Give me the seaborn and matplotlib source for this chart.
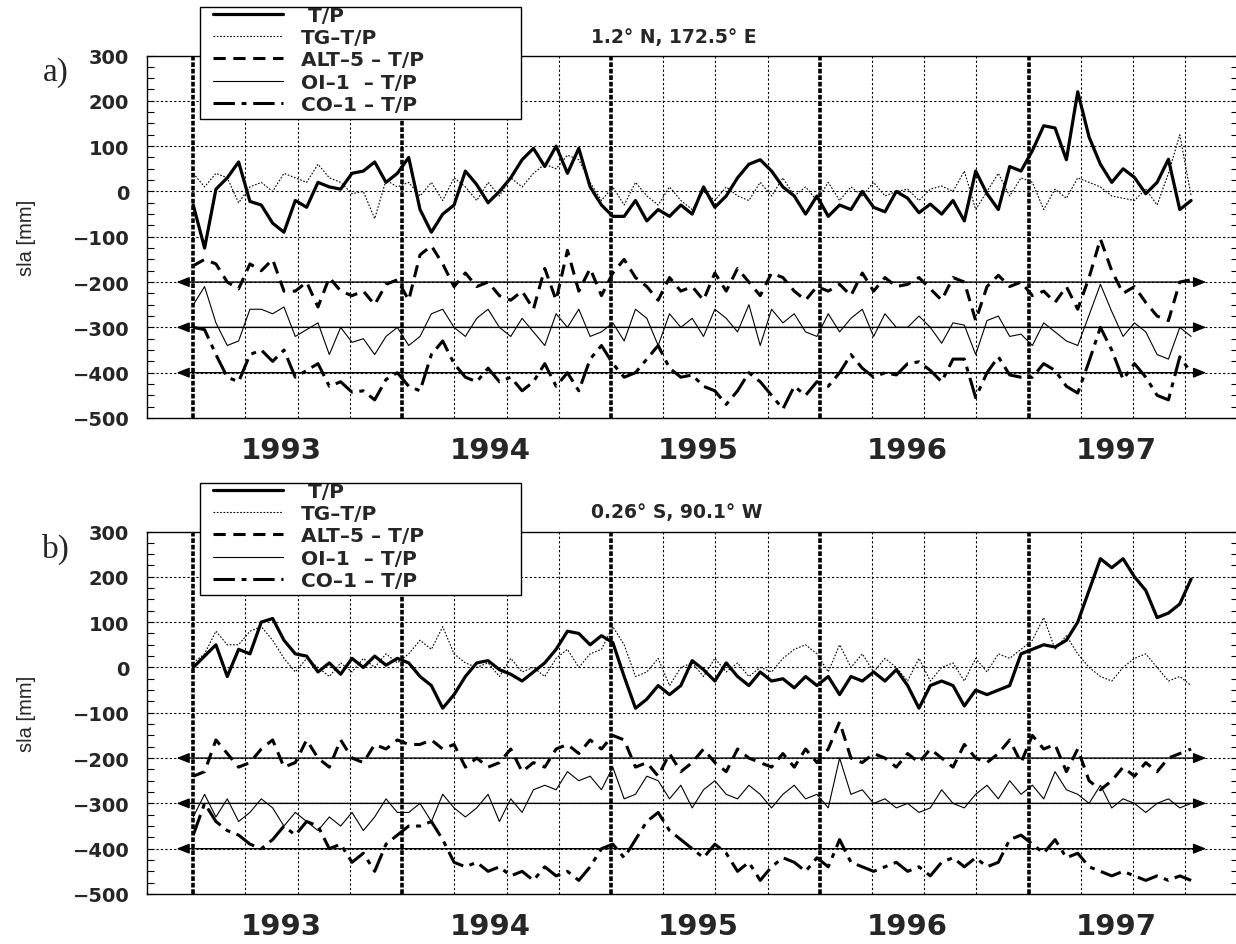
import numpy as np
import pandas as pd
import matplotlib
matplotlib.use("Agg")
import matplotlib.pyplot as plt
import seaborn as sns
from matplotlib.patches import Rectangle
from matplotlib.lines import Line2D
from matplotlib.ticker import MultipleLocator

sns.set_theme(style="white")
plt.rcParams['font.family'] = ['DejaVu Sans']

# ---------------- data ----------------
START_YEAR = 1993.0
STEP_DAYS = 2 * 9.9156          # two T/P cycles between samples
YEARS = [1993, 1994, 1995, 1996, 1997]
SERIES = [" T/P", "TG\u2013T/P", "ALT\u20135 \u2013 T/P", "OI\u20131  \u2013 T/P", "CO\u20131 \u2013 T/P"]
OFFSETS = [0, 0, -200, -300, -400]
TITLES = ["1.2\u00b0 N, 172.5\u00b0 E", "0.26\u00b0 S, 90.1\u00b0 W"]
PANEL_LABELS = ["a)", "b)"]

# panel a
tp_a = [-30, -125, 5, 30, 65, -22, -30, -70, -90, -20,
        -35, 20, 10, 5, 40, 45, 65, 20, 40, 75,
        -40, -90, -50, -30, 45, 15, -25, 0, 30, 70,
        95, 55, 100, 40, 95, 10, -30, -55, -55, -20,
        -65, -40, -55, -30, -50, 10, -35, -10, 30, 60,
        70, 45, 10, -10, -50, -10, -55, -30, -40, 0,
        -35, -45, 0, -15, -47, -28, -50, -20, -65, 45,
        -5, -40, 55, 45, 90, 145, 140, 70, 220, 120,
        60, 20, 50, 31, -5, 20, 71, -40, -20]
tg_a = [40, 10, 40, 30, -25, 10, 20, 0, 40, 30,
        20, 60, 30, 20, -5, 0, -60, 25, 10,
        20, -10, 20, -20, 30, 10, -20, 20, -10, 30,
        10, 40, 60, 50, 80, 70, 20, -20, 10, -30,
        20, -10, -30, 10, -20, -40, 0, -20, 10, -10,
        -20, 20, -10, 30, -10, 10, -20, 20, -20, 10,
        -10, 20, -10,
        0, 5, -20, 5, 12, 0, 45, -40, 0, 40,
        -10, 30, 20, -40, 5, -15, 30, 20, 10, -10,
        -15, -20, 5, -30, 40, 125, -10]
alt5_a = [36, 50, 40, 0, -15, 40, 25, 50, -20, -20,
          0, -55, 10, -20, -30, -20, -50, -5, 5,
          -40, 60, 80, 40, -10, 20, -10, 0, -30, -40,
          -20, -60, 30, -40, 70, -20, 30, -30, 20, 50,
          10, -10, -40, 10, -20, -10, -40, 20, -20, 30,
          0, -30, 20, 10, -20, -40, -10, -20, -5, -30,
          20, -20, 10,
          -10, -5, 10, -15, -40, 10, 0, -85, -10, 15,
          -10, 0, -30, -20, -45, -10, -60, 10, 95, 25,
          -25, -10, -45, -75, -85, 0, 5]
oi1_a = [50, 90, 10, -40, -30, 40, 40, 30, 45, -20,
         -5, 10, -60, 0, -33, -25, -60, -20, 0,
         -40, -20, 30, 40, 0, -20, 20, 40, 0, -20,
         20, -10, -40, 30, 0, 40, -20, -10, 10, -30,
         40, 20, -40, 30, 0, 20, -20, 40, 20, -10,
         50, -40, 40, 10, 30, -10, -20, 30, -10, 20,
         40, -20, 30,
         0, 0, 25, 0, -35, 10, 5, -60, 15, 25,
         -20, -15, -40, 10, -10, -30, -40, 27, 95, 35,
         -20, 10, -10, -60, -70, 0, -20]
co1_a = [100, 95, 40, -10, -20, 40, 50, 25, 50, -10,
         5, 20, -30, -20, -43, -40, -60, -15, 0,
         -30, -40, 40, 70, 20, -10, -20, 10, -20, -10,
         -40, -20, 20, -30, 0, -40, 30, 60, 20, -10,
         0, 30, 60, 10, -10, -5, -30, -40, -70, -40,
         0, -20, -50, -80, -30, -50, -20, -30, 0, 40,
         10, -10, 0,
         -5, 20, 24, 5, -20, 30, 30, -55, 0, 35,
         -5, -10, -10, 20, 5, -30, -45, 25, 100, 50,
         -15, 20, -10, -50, -60, 35, 0]

# panel b
tp_b = [0, 25, 50, -20, 40, 30, 100, 108, 60, 30,
        25, -10, 10, -15, 20, 0, 25, 5, 20, 10,
        -20, -40, -90, -60, -20, 10, 15, -5, -15, -30,
        -10, 10, 40, 80, 75, 50, 70, 55, -20, -90,
        -70, -40, -60, -40, 15, -5, -30, 10, -20, -40,
        -10, -30, -25, -45, -20, -40, -20, -60, -20, -30,
        -10, -30, -5, -40, -90, -40, -30, -40, -85, -50,
        -60, -50, -40, 30, 40, 50, 45, 60, 100, 170,
        240, 220, 240, 200, 170, 110, 120, 140, 195]
tg_b = [10, 30, 80, 50, 50, 80, 90, 60, 20, -10,
        20, 0, -20, 10, -10, 20, 0, 30, 10, 30,
        60, 40, 90, 30, 10, 0, 10, -20, 20, -10,
        0, -20, 20, 40, 0, 30, 40, 90, 50, -20,
        -10, 20, -40, 0, 10, -20, 20, -10, 10, -20,
        0, -10, 20, 40, 50, 30, -10, 50, 0, 30,
        -10, 20, 0, -30, 20, -30, 0, 10, -30, 20,
        -10, 30, 20, 40, 60, 110, 40, 70, 30, 0,
        -20, -30, 0, 20, 30, 0, -30, -20, -40]
alt5_b = [-40, -30, 40, 10, -20, -10, 20, 40, -20, -10,
          40, 0, -20, 40, 0, -10, 30, 20, 40, 30,
          30, 40, 20, 30, -20, 0, -20, -10, 20, -30,
          -10, -20, 20, 30, 10, 40, 20, 50, 40, -20,
          -10, -40, 10, -30, -10, 20, -10, -30, 20, 0,
          -10, -20, 10, -20, 20, -10, 20, 80, 0, -10,
          10, 0, -20, 10, -10, 20, 0, -20, 30, 0,
          -10, 10, 40, -10, 50, 20, 30, -30, 20, -50,
          -70, -50, -20, -40, -10, -30, 0, 10, 20]
oi1_b = [-30, 20, -30, 10, -40, -20, 10, -10, -50, -20,
         -40, -60, -30, -50, -20, -60, -30, 10, -20, -20,
         0, -40, 20, -10, -30, -10, 20, -40, 10, -20,
         30, 40, 30, 70, 50, 60, 30, 80, 10, 20,
         60, 50, 10, 40, -10, 30, 50, 20, 10, 40,
         20, -10, 20, 40, 10, 20, -10, 100, 20, 30,
         0, 10, -10, 0, -20, -10, 30, 0, -10, 20,
         40, 10, 50, 20, 40, 10, 70, 30, 20, 0,
         40, -10, 10, 0, -20, 0, 10, -10, 0]
co1_b = [30, 100, 60, 40, 30, 10, 0, 20, 50, 30,
         60, 50, 0, 10, -30, -10, -50, 10, 30, 50,
         50, 60, 20, -30, -40, -30, -50, -40, -60, -50,
         -70, -40, -60, -50, -70, -40, 0, 10, -20, 20,
         60, 80, 40, 20, 0, -20, 10, -10, -50, -30,
         -70, -40, -20, -30, -50, -20, -40, 20, -30, -40,
         -50, -40, -30, -50, -40, -60, -30, -20, -40, -20,
         -40, -30, 20, 30, 10, -10, 20, -20, -10, -40,
         -50, -60, -50, -60, -70, -60, -70, -60, -70]

PANELS = [[tp_a, tg_a, alt5_a, oi1_a, co1_a], [tp_b, tg_b, alt5_b, oi1_b, co1_b]]

# ---------------- styles ----------------
STYLES = [dict(lw=2.3, ls="-"),
          dict(lw=0.8, ls=(0, (1.5, 1.5))),
          dict(lw=2.2, ls=(0, (4, 2.5))),
          dict(lw=0.8, ls="-"),
          dict(lw=2.2, ls=(0, (7, 2.2, 1.6, 2.2)))]

W, H = 1236, 945
LEFT_PX, RIGHT_PX = 147.3, 1237.5
TOPS = [56.5, 532.5]
AX_H = 362.5

fig = plt.figure(figsize=(W / 100, H / 100), dpi=100)

for p, (vals_list, title, plab) in enumerate(zip(PANELS, TITLES, PANEL_LABELS)):
    top = TOPS[p]
    ax = fig.add_axes([LEFT_PX / W, 1 - (top + AX_H) / H, (RIGHT_PX - LEFT_PX) / W, AX_H / H])
    n = len(vals_list[0])
    t = START_YEAR + np.arange(n) * STEP_DAYS / 365.25
    frames = []
    for name, off, vals in zip(SERIES, OFFSETS, vals_list):
        frames.append(pd.DataFrame({"t": t[:len(vals)], "sla": np.array(vals, float) + off, "series": name}))
    df = pd.concat(frames, ignore_index=True)

    ax.set_xlim(1992.78, 1998.0)
    ax.set_ylim(-500, 300)

    # grid: dotted horizontals, quarter-year verticals, heavy year lines
    for yv in range(-400, 300, 100):
        ax.axhline(yv, color="black", lw=0.8, ls=(0, (2, 2)), zorder=1)
    for yr in YEARS:
        for q in (0.25, 0.5, 0.75):
            ax.axvline(yr + q, color="black", lw=0.8, ls=(0, (2, 2)), zorder=1)
        ax.axvline(yr, color="black", lw=2.6, ls=(0, (1.3, 0.5)), zorder=1)

    # offset baselines with arrows
    for off in OFFSETS[2:]:
        ax.annotate("", xy=(1992.92, off), xytext=(1997.85, off),
                    arrowprops=dict(arrowstyle="<|-|>,head_length=0.55,head_width=0.22",
                                    color="black", lw=1.0, shrinkA=0, shrinkB=0,
                                    mutation_scale=14), zorder=2)

    for name, st in zip(SERIES, STYLES):
        sns.lineplot(data=df[df["series"] == name], x="t", y="sla", ax=ax, color="black",
                     lw=st["lw"], linestyle=st["ls"], legend=False, zorder=3, estimator=None)

    # axes cosmetics
    for s in ax.spines.values():
        s.set_color("black")
        s.set_linewidth(1.0)
        s.set_visible(True)
    ax.set_xlabel("")
    ax.set_ylabel("")
    ax.set_yticks(range(-500, 301, 100))
    ax.yaxis.set_minor_locator(MultipleLocator(25))
    ax.tick_params(axis="y", which="both", direction="in", left=True, right=True,
                   length=5, width=0.8, color="black", labelsize=14, pad=13)
    for lab in ax.get_yticklabels():
        lab.set_fontweight("bold")
    ax.set_xticks([y + 0.42 for y in YEARS])
    ax.set_xticklabels([str(y) for y in YEARS], fontsize=21, fontweight="bold")
    ax.tick_params(axis="x", which="both", length=0, pad=13, bottom=False)

    # legend box + legend
    box_top = 8 + (top - TOPS[0])
    fig.add_artist(Rectangle((200 / W, 1 - (box_top + 112) / H), 321 / W, 112 / H,
                             transform=fig.transFigure, facecolor="white",
                             edgecolor="black", lw=1.0, zorder=4))
    handles = [Line2D([0], [0], color="black", lw=st["lw"], ls=st["ls"]) for st in STYLES]
    fig.legend(handles, SERIES, loc="upper left",
               bbox_to_anchor=(213 / W, 1 - (box_top - 1) / H), bbox_transform=fig.transFigure,
               frameon=False, borderpad=0, borderaxespad=0, handlelength=3.5,
               handletextpad=0.85, labelspacing=0.16,
               prop=dict(weight="bold", size=14.5))

    fig.text(591 / W, 1 - (37 + top - TOPS[0]) / H, title, ha="left", va="center",
             fontsize=13.5, fontweight="bold")
    fig.text(56 / W, 1 - (73 + top - TOPS[0]) / H, plab, ha="center", va="center",
             family="Liberation Serif", fontsize=24)
    fig.text(27 / W, 1 - (top + AX_H / 2) / H, "sla [mm]", rotation=90, ha="center",
             va="center", family="Liberation Sans", fontsize=14.5)

fig.savefig("out.png", dpi=100)
